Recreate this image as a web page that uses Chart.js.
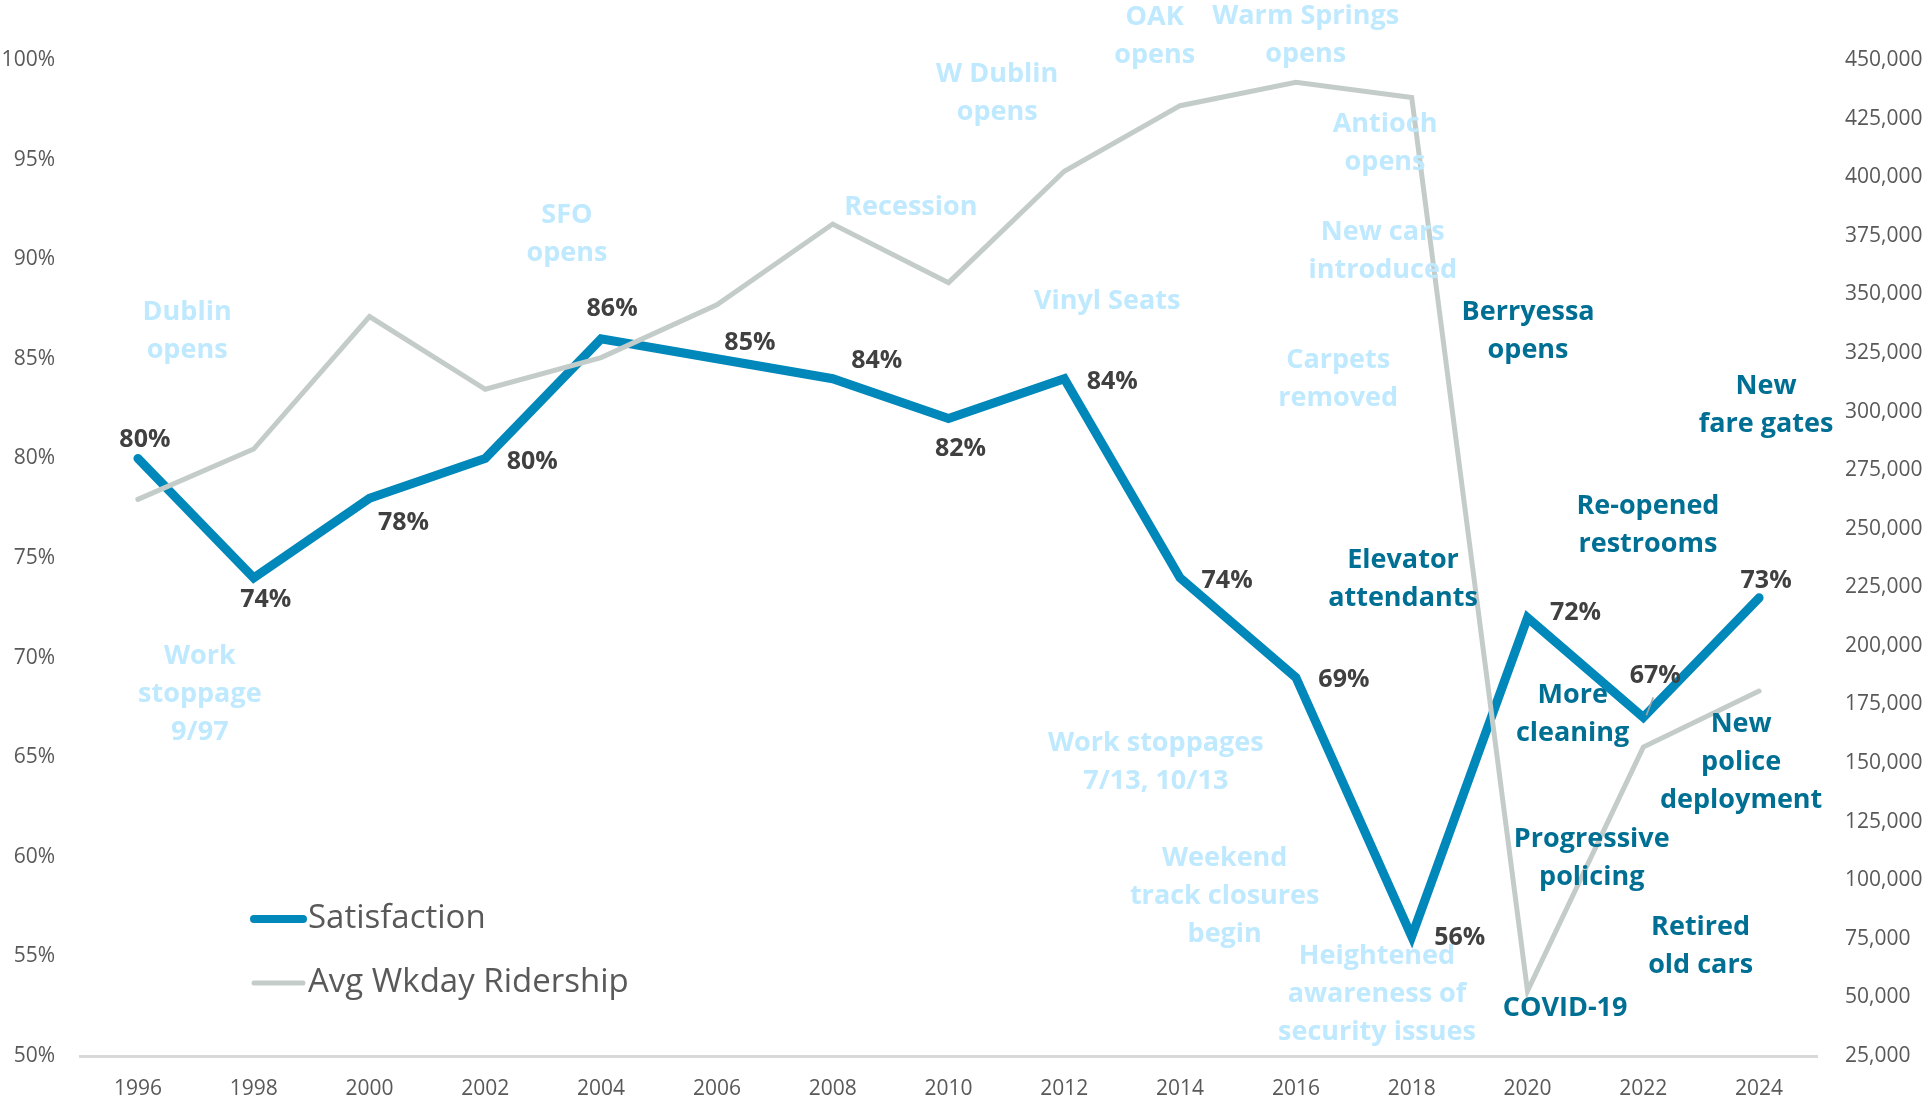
<!DOCTYPE html>
<html>
<head>
<meta charset="utf-8">
<script src="https://cdn.jsdelivr.net/npm/chart.js@4.4.1/dist/chart.umd.min.js"></script>
<style>
  html, body { margin: 0; padding: 0; background: #ffffff; }
  #wrap { width: 1928px; height: 1098px; position: relative; }
</style>
</head>
<body>
<div id="wrap"><canvas id="c"></canvas></div>
<script>
// ---------- DATA ----------
const years = ['1996','1998','2000','2002','2004','2006','2008','2010','2012','2014','2016','2018','2020','2022','2024'];
const satisfaction = [80, 74, 78, 80, 86, 85, 84, 82, 84, 74, 69, 56, 72, 67, 73];
const ridership = [262500, 284000, 340500, 309500, 323000, 345500, 380000, 355000, 402500, 430500, 440500, 434000, 52700, 156800, 180700];
const leftTicks = [50, 55, 60, 65, 70, 75, 80, 85, 90, 95, 100];
const rightTicks = [25000, 450000, 25000]; // min, max, step

// Event annotations: text lines, anchor year, anchor satisfaction %, group
const eventTexts = [
  ['Dublin','opens'], ['Work','stoppage','9/97'], ['SFO','opens'], ['Recession'],
  ['W Dublin','opens'], ['OAK','opens'], ['Warm Springs','opens'], ['Antioch','opens'],
  ['New cars','introduced'], ['Vinyl Seats'], ['Carpets','removed'],
  ['Work stoppages','7/13, 10/13'], ['Weekend','track closures','begin'],
  ['Heightened','awareness of','security issues'],
  ['Berryessa','opens'], ['New','fare gates'], ['Re-opened','restrooms'],
  ['Elevator','attendants'], ['More','cleaning'], ['New','police','deployment'],
  ['Progressive','policing'], ['Retired','old cars'], ['COVID-19']
];
const eventYears = [1996.85, 1997.07, 2003.41, 2009.35, 2010.84, 2013.56, 2016.17, 2017.54,
  2017.50, 2012.74, 2016.73, 2013.58, 2014.77, 2017.40,
  2020.01, 2024.12, 2022.08, 2017.85, 2020.78, 2023.69, 2021.11, 2022.99, 2020.65];
const eventLevels = [86.4, 68.17, 91.27, 92.62, 98.34, 101.2, 101.23, 95.83,
  90.39, 87.9, 83.96, 64.73, 58.0, 53.11,
  86.4, 82.68, 76.66, 73.95, 67.14, 64.76, 59.94, 55.52, 52.41];
const eventGroup = ['old','old','old','old','old','old','old','old','old','old','old','old','old','old',
  'new','new','new','new','new','new','new','new','new'];

// ---------- STYLE ----------
const FONT = "'Open Sans', 'DejaVu Sans', sans-serif";
const SAT_COLOR = '#0088BB';
const RID_COLOR = '#C4CCCA';
const OLD_COLOR = '#BFE9FE';
const NEW_COLOR = '#006F94';
const TICK_COLOR = '#595959';
// data label offsets (px) relative to each satisfaction point
const labelDX = [7, 12, 34, 47, 11, 33, 44, 12, 48, 47, 48, 48, 48, 12, 7];
const labelDY = [-19, 22, 25, 3, -30, -16, -18, 30, 3, 3, 2, 1, -5, -41, -17];

const eventPlugin = {
  id: 'events',
  afterDatasetsDraw(chart) {
    const ctx = chart.ctx;
    const xs = chart.scales.x, ys = chart.scales.y;
    ctx.save();
    ctx.textAlign = 'center';
    ctx.textBaseline = 'middle';
    ctx.font = "bold 27px " + FONT;
    const lh = 38;
    eventTexts.forEach((lines, i) => {
      const cx = xs.getPixelForValue((eventYears[i] - 1996) / 2);
      const cy = ys.getPixelForValue(eventLevels[i]);
      ctx.fillStyle = eventGroup[i] === 'old' ? OLD_COLOR : NEW_COLOR;
      const top = cy - (lines.length - 1) * lh / 2;
      lines.forEach((t, j) => ctx.fillText(t, cx, top + j * lh));
    });
    ctx.restore();
  }
};

const labelPlugin = {
  id: 'satLabels',
  afterDatasetsDraw(chart) {
    const ctx = chart.ctx;
    const meta = chart.getDatasetMeta(0);
    ctx.save();
    ctx.font = "bold 25px " + FONT;
    ctx.fillStyle = '#404040';
    ctx.textAlign = 'center';
    ctx.textBaseline = 'middle';
    meta.data.forEach((pt, i) => {
      const x = pt.x + labelDX[i], y = pt.y + labelDY[i];
      if (i === 13) {
        ctx.strokeStyle = '#A6A6A6';
        ctx.lineWidth = 1.5;
        ctx.beginPath();
        ctx.moveTo(pt.x + 3, pt.y - 2);
        ctx.lineTo(pt.x + 10, pt.y - 20);
        ctx.stroke();
      }
      ctx.fillText(chart.data.datasets[0].data[i] + '%', x, y);
    });
    ctx.restore();
  }
};

const legendPlugin = {
  id: 'customLegend',
  afterDraw(chart) {
    const ctx = chart.ctx;
    const items = [
      { ds: chart.data.datasets[0], y: 919 },
      { ds: chart.data.datasets[1], y: 983 }
    ];
    ctx.save();
    ctx.font = "33px " + FONT;
    ctx.textBaseline = 'middle';
    ctx.textAlign = 'left';
    items.forEach(it => {
      ctx.strokeStyle = it.ds.borderColor;
      ctx.lineWidth = it.ds.legendWidth;
      ctx.lineCap = 'round';
      ctx.beginPath();
      ctx.moveTo(254, it.y);
      ctx.lineTo(303, it.y);
      ctx.stroke();
      ctx.fillStyle = TICK_COLOR;
      ctx.fillText(it.ds.label, 308, it.y);
    });
    ctx.restore();
  }
};

new Chart(document.getElementById('c'), {
  type: 'line',
  data: {
    labels: years,
    datasets: [
      { label: 'Satisfaction', data: satisfaction, yAxisID: 'y', borderColor: SAT_COLOR, borderWidth: 9,
        legendWidth: 8, pointRadius: 0, tension: 0, borderCapStyle: 'round', borderJoinStyle: 'miter', order: 1 },
      { label: 'Avg Wkday Ridership', data: ridership, yAxisID: 'y1', borderColor: RID_COLOR, borderWidth: 5,
        legendWidth: 5, pointRadius: 0, tension: 0, borderCapStyle: 'round', order: 0 }
    ]
  },
  options: {
    responsive: true,
    maintainAspectRatio: false,
    animation: false,
    layout: { padding: { top: 60, left: 0, right: 0, bottom: 0 } },
    plugins: { legend: { display: false }, tooltip: { enabled: false } },
    scales: {
      x: {
        type: 'category',
        offset: true,
        grid: { display: false, drawTicks: false },
        border: { display: true, color: '#D9D9D9', width: 3 },
        ticks: { font: { family: FONT, size: 21 }, color: TICK_COLOR, padding: 20, maxRotation: 0, autoSkip: false },
        afterFit(s) { s.height = 42; }
      },
      y: {
        position: 'left',
        min: leftTicks[0], max: leftTicks[leftTicks.length - 1],
        grid: { display: false, drawTicks: false },
        border: { display: false },
        ticks: { stepSize: leftTicks[1] - leftTicks[0], font: { family: FONT, size: 21 }, color: TICK_COLOR, padding: 25,
                 callback: v => v + '%' },
        afterFit(s) { s.width = 80; }
      },
      y1: {
        position: 'right',
        min: rightTicks[0], max: rightTicks[1],
        grid: { display: false, drawTicks: false },
        border: { display: false },
        ticks: { stepSize: rightTicks[2], font: { family: FONT, size: 21 }, color: TICK_COLOR, padding: 28,
                 autoSkip: false, callback: v => v.toLocaleString('en-US') },
        afterFit(s) { s.width = 111; }
      }
    }
  },
  plugins: [eventPlugin, labelPlugin, legendPlugin]
});
</script>
</body>
</html>
